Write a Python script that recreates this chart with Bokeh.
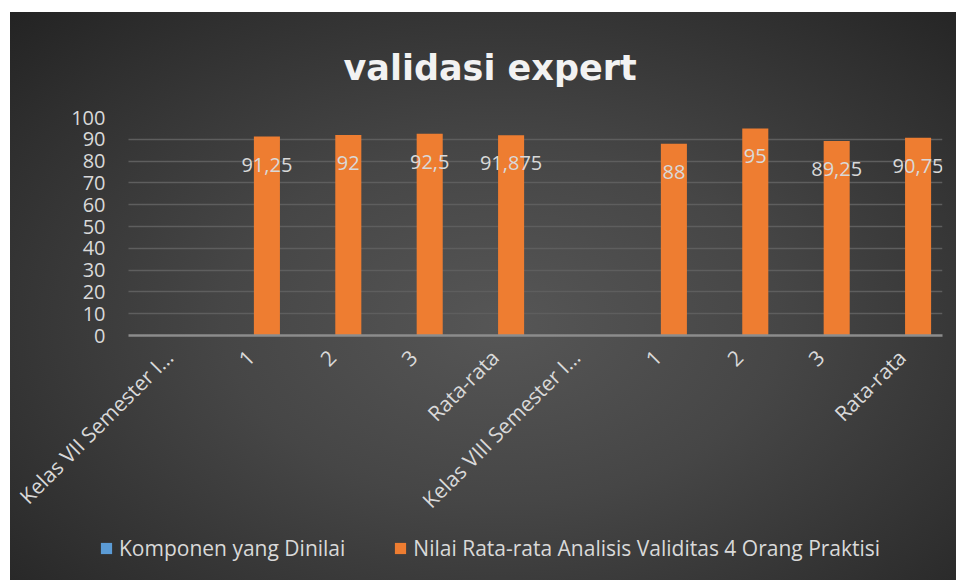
import math
import numpy as np
from bokeh.plotting import figure
from bokeh.layouts import column
from bokeh.models import (ColumnDataSource, FixedTicker, LabelSet, Legend,
                          LegendItem, Title, Range1d)
from bokeh.core.properties import value
from bokeh.embed import file_html
from bokeh.resources import INLINE

# ---------------- data ----------------
categories = ["Kelas VII Semester I…", "1", "2", "3", "Rata-rata",
              "Kelas VIII Semester I…", "1", "2", "3", "Rata-rata"]
series_names = ["Komponen yang Dinilai",
                "Nilai Rata-rata Analisis Validitas 4 Orang Praktisi"]
komponen = [None, None, None, None, None, None, None, None, None, None]
nilai = [None, 91.25, 92, 92.5, 91.875, None, 88, 95, 89.25, 90.75]
y_ticks = [0, 10, 20, 30, 40, 50, 60, 70, 80, 90, 100]
title_text = "validasi expert"

# ---------------- style ----------------
TXT = "#d9d9d9"
FONT = "Open Sans"
BLUE = "#5b9bd5"
ORANGE = "#ee7d31"
W = 946
H_MAIN = 518
H_LEG = 50
LEFT = 89          # frame left (px inside figure)
PAD_UNITS = 29 / 81.3   # extra room left of the first category

pos = list(range(len(categories)))
to_f = lambda v: float("nan") if v is None else float(v)
x_lo, x_hi = -0.5, len(categories) - 0.5

src = ColumnDataSource(dict(
    x_blue=[q - 0.2 for q in pos],
    x_orange=[q + 0.2 for q in pos],
    komponen=[to_f(v) for v in komponen],
    nilai=[to_f(v) for v in nilai],
))

lab_x, lab_y, lab_t = [], [], []
for q, v in zip(pos, nilai):
    if v is not None:
        lab_x.append(q + 0.2)
        lab_y.append(v)
        lab_t.append(("%g" % v).replace(".", ","))
lab_src = ColumnDataSource(dict(x=lab_x, y=lab_y, t=lab_t))

p = figure(width=W, height=H_MAIN, output_backend="svg", toolbar_location=None,
           x_range=Range1d(x_lo - PAD_UNITS, x_hi), y_range=Range1d(0, 100),
           min_border_left=LEFT, min_border_right=14, min_border_top=105,
           min_border_bottom=195)
p.background_fill_color = None
p.border_fill_color = None
p.outline_line_color = None

rb = p.vbar(x="x_blue", top="komponen", width=0.32, source=src,
            fill_color=BLUE, line_color=None)
ro = p.vbar(x="x_orange", top="nilai", width=0.32, source=src,
            fill_color=ORANGE, line_color=None)

p.add_layout(LabelSet(x="x", y="y", text="t", source=lab_src, y_offset=-28,
                      text_align="center", text_baseline="middle",
                      text_font=value(FONT), text_font_size="20px",
                      text_color=TXT))

# axes
p.xaxis.ticker = FixedTicker(ticks=pos)
p.xaxis.bounds = (x_lo, x_hi)
p.xaxis.major_label_overrides = {i: c for i, c in zip(pos, categories)}
p.xaxis.major_label_orientation = math.pi / 4
p.xaxis.major_label_text_font = FONT
p.xaxis.major_label_text_font_size = "21px"
p.xaxis.major_label_text_color = TXT
p.xaxis.major_label_standoff = 18
p.xaxis.major_tick_out = 0
p.xaxis.major_tick_in = 0
p.xaxis.major_tick_line_color = None
p.xaxis.minor_tick_line_color = None
p.xaxis.axis_line_color = "#8c8c8c"
p.xaxis.axis_line_width = 2.5

p.yaxis.ticker = FixedTicker(ticks=y_ticks)
p.yaxis.major_label_text_font = FONT
p.yaxis.major_label_text_font_size = "20px"
p.yaxis.major_label_text_color = TXT
p.yaxis.major_label_standoff = -6
p.yaxis.major_tick_out = 0
p.yaxis.major_tick_in = 0
p.yaxis.major_tick_line_color = None
p.yaxis.minor_tick_line_color = None
p.yaxis.axis_line_color = None

p.xgrid.grid_line_color = None
p.ygrid.ticker = FixedTicker(ticks=y_ticks)
p.ygrid.grid_line_color = "#5e5e5e"
p.ygrid.grid_line_width = 1.5
try:
    p.ygrid[0].cross_bounds = (x_lo, x_hi)
except Exception:
    p.ygrid.grid_line_color = None
    p.segment(x0=[x_lo] * len(y_ticks), x1=[x_hi] * len(y_ticks),
              y0=y_ticks, y1=y_ticks, line_color="#5e5e5e", line_width=1.5,
              level="underlay")

p.title = Title(text=title_text, align="left", offset=244, standoff=56,
                vertical_align="top",
                text_font="DejaVu Sans", text_font_style="bold",
                text_font_size="35px", text_color="#f2f2f2")

# ---------------- legend strip ----------------
lf = figure(width=W, height=H_LEG, output_backend="svg", toolbar_location=None,
            x_range=Range1d(0, 1), y_range=Range1d(0, 1), min_border=0,
            min_border_left=LEFT, min_border_right=14,
            x_axis_location=None, y_axis_location=None)
lf.background_fill_color = None
lf.border_fill_color = None
lf.outline_line_color = None
lf.grid.visible = False
lb_r = lf.vbar(x="x_blue", top="komponen", width=0.32, source=src,
               fill_color=BLUE, line_color=None, visible=False)
lo_r = lf.vbar(x="x_orange", top="nilai", width=0.32, source=src,
               fill_color=ORANGE, line_color=None, visible=False)
legend = Legend(items=[LegendItem(label=series_names[0], renderers=[lb_r]),
                       LegendItem(label=series_names[1], renderers=[lo_r])],
                orientation="horizontal", location=(0, 18),
                label_text_font=FONT, label_text_font_size="21px",
                label_text_color=TXT, glyph_width=14, glyph_height=14,
                label_standoff=6, spacing=48, padding=0, margin=0,
                background_fill_alpha=0, border_line_color=None)
lf.add_layout(legend, "center")

page = column(p, lf, spacing=0, margin=(12, 0, 0, 10),
              styles={"background": "radial-gradient(ellipse at 52% 55%, #565656 0%, #464646 40%, #2f2f2f 80%, #232323 100%)"})

open("out.html", "w").write(file_html(page, INLINE))
